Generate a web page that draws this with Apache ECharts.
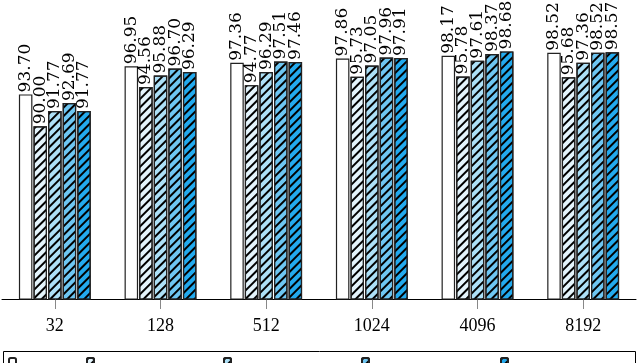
<!DOCTYPE html>
<html>
<head>
<meta charset="utf-8">
<style>
	html, body { margin: 0; padding: 0; background: #fff; }
	#chart { width: 640px; height: 363px; }
</style>
<script src="https://cdn.jsdelivr.net/npm/echarts@6/dist/echarts.min.js"></script>
</head>
<body>
<div id="chart"></div>
<script>
const categories = ['32', '128', '512', '1024', '4096', '8192'];
const seriesNames = ['Full', 'Sparse r=1', 'Sparse r=2', 'Sparse r=4', 'Sparse r=8'];
const full = [93.70, 96.95, 97.36, 97.86, 98.17, 98.52];
const sparse1 = [90.00, 94.56, 94.77, 95.73, 95.78, 95.68];
const sparse2 = [91.77, 95.88, 96.29, 97.05, 97.61, 97.36];
const sparse4 = [92.69, 96.70, 97.51, 97.96, 98.37, 98.52];
const sparse8 = [91.77, 96.29, 97.46, 97.91, 98.68, 98.57];

( function() {

	const serif = 'Liberation Serif';
	const fills = ['#ffffff', '#e4f4fc', '#ade0f7', '#6ec6f2', '#23aaee'];
	const legendX = [8, 86, 223, 361, 500];

	const hatch = {
		symbol: 'rect',
		symbolSize: 1,
		color: '#000',
		dashArrayX: [1, 0],
		dashArrayY: [1.5, 3.1],
		rotation: -Math.PI / 4
	};

	const makeSeries = function( name, values, i ) {
		const style = {
			color: fills[i],
			borderColor: '#222',
			borderWidth: 1.2
		};
		if( i > 0 ) style.decal = hatch; // all but the first are hatched
		return {
			name: name,
			type: 'bar',
			data: values,
			barGap: '8%',
			barCategoryGap: '32%',
			itemStyle: style,
			label: {
				show: true,
				position: 'top',
				rotate: 90,
				align: 'left',
				verticalAlign: 'middle',
				distance: 2,
				color: '#000',
				fontFamily: 'DejaVu Serif',
				fontSize: 17,
				formatter: p => p.value.toFixed(2)
			}
		};
	}

	const allValues = [full, sparse1, sparse2, sparse4, sparse8];

	// legend text sits mostly below the picture edge, as in the original
	const legends = seriesNames.map(function( name, i ) {
		return {
			data: [name],
			left: legendX[i],
			top: 357,
			itemWidth: 7,
			itemHeight: 25,
			itemGap: 6,
			padding: 0,
			textStyle: { fontFamily: serif, fontSize: 17, color: '#000' }
		};
	});

	const option = {
		animation: false,
		backgroundColor: '#fff',
		grid: { left: 2, right: 4, top: 40, bottom: 64 },
		legend: legends,
		xAxis: {
			type: 'category',
			data: categories,
			axisLine: { lineStyle: { color: '#000', width: 1 } },
			axisTick: { show: true, alignWithLabel: true, length: 10, lineStyle: { color: '#888', width: 1 } },
			axisLabel: { color: '#000', fontFamily: serif, fontSize: 18, margin: 18 }
		},
		yAxis: {
			type: 'value',
			min: 70,
			max: 100,
			show: false
		},
		graphic: [{
			type: 'rect',
			shape: { x: 3.5, y: 351.5, width: 632, height: 30 },
			style: { fill: 'none', stroke: '#000', lineWidth: 1 },
			silent: true
		}],
		series: seriesNames.map((n, i) => makeSeries(n, allValues[i], i))
	};

	document.addEventListener("DOMContentLoaded", function() {
		const myChart = echarts.init(document.getElementById('chart'), null, { renderer: 'canvas' });
		myChart.setOption(option);
	});

}() );
</script>
</body>
</html>
